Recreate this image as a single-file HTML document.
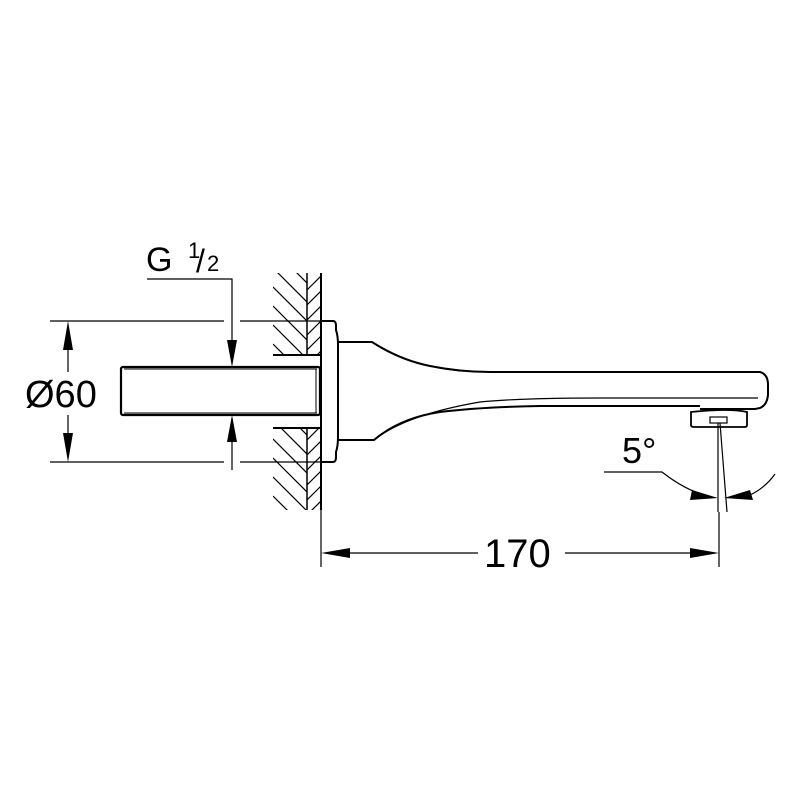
<!DOCTYPE html>
<html><head><style>html,body{margin:0;padding:0;background:#fff}svg{display:block}</style></head>
<body>
<svg width="800" height="800" viewBox="0 0 800 800" xmlns="http://www.w3.org/2000/svg" font-family="Liberation Sans, Arial, sans-serif">
<defs>
<clipPath id="wl"><rect x="273" y="273" width="34" height="82"/><rect x="273" y="428" width="34" height="82"/></clipPath>
<clipPath id="wr"><rect x="307" y="273" width="14" height="82"/><rect x="307" y="428" width="14" height="82"/></clipPath>
</defs>
<g stroke="#000" fill="none">
<g clip-path="url(#wl)" stroke-width="1.2">
<path d="M273,230 l60,60 M273,249 l60,60 M273,268 l60,60 M273,287 l60,60 M273,306 l60,60 M273,325 l60,60 M273,344 l60,60 M273,363 l60,60 M273,382 l60,60 M273,401 l60,60 M273,420 l60,60 M273,439 l60,60 M273,458 l60,60 M273,477 l60,60 M273,496 l60,60"/>
</g>
<g clip-path="url(#wr)" stroke-width="1.2">
<path d="M307,290 l14,-14 M307,305 l14,-14 M307,320 l14,-14 M307,335 l14,-14 M307,350 l14,-14 M307,365 l14,-14 M307,440 l14,-14 M307,455 l14,-14 M307,470 l14,-14 M307,485 l14,-14 M307,500 l14,-14 M307,515 l14,-14 M307,530 l14,-14"/>
</g>
<path d="M307,273 V355 M307,428 V510" stroke-width="1.5"/>
<path d="M321,273 V510" stroke-width="2"/>
<path d="M273,355 H321 M273,428 H321" stroke-width="2"/>
<rect x="121" y="367" width="199" height="48" rx="2" stroke-width="2.2"/>
<path d="M124,369 H317 M124,413 H317 M316,369 V413" stroke-width="1"/>
<path d="M321,321 H333 Q336,321 336,326 V330 Q338,336 338,345 V437 Q338,446 336,452 V457 Q336,462 333,462 H321" stroke-width="2"/>
<path d="M338,342 H372 Q400,360 430,366 Q460,372 490,372 H760 Q768,374 768,385 V395 Q767,405 760,408 L755,409 H700" stroke-width="2"/>
<path d="M338,440 H374 Q400,418 440,412 Q480,407 540,406 H700" stroke-width="2"/>
<path d="M376,345 Q410,366 460,371" stroke-width="1"/>
<path d="M378,437 Q410,414 480,402 Q520,398 600,398 H758" stroke-width="1.2"/>
<path d="M691,412 V425 Q691,427 694,427 H745 Q747,427 747,425 V412 Q730,408 691,412 Z" stroke-width="1.8"/>
<rect x="710" y="417" width="17" height="6" stroke-width="1.2"/>
<path d="M718,423 V512" stroke-width="1.2"/>
<path d="M720,423 L727,512" stroke-width="1.2"/>
<path d="M604,472 H662 Q685,490 705,495" stroke-width="1.2"/>
<path d="M775,474 Q765,488 750,495" stroke-width="1.2"/>
<path d="M50,321 H224 M240,321 H320 M50,462 H224 M240,462 H320" stroke-width="1.2"/>
<path d="M68,340 V372 M68,415 V445" stroke-width="1.2"/>
<path d="M147,279 H232 V345 M232,437 V470" stroke-width="1.2"/>
<path d="M321,440 V567 M719,512 V567" stroke-width="1.2"/>
<path d="M345,553 H478 M565,553 H695" stroke-width="1.2"/>
</g>
<g fill="#000">
<path d="M68,321 L63,350 H73 Z"/>
<path d="M68,462 L63,433 H73 Z"/>
<path d="M232,367 L227,340 H237 Z"/>
<path d="M232,415 L227,442 H237 Z"/>
<path d="M321,553 L350,548 V558 Z"/>
<path d="M719,553 L690,548 V558 Z"/>
<path d="M718,498 L692,490 L690,500 Z"/>
<path d="M724,498 L750,490 L753,500 Z"/>
</g>
<g fill="#000">
<text x="25" y="407" font-size="38">Ø60</text>
<text x="146" y="271" font-size="34">G</text>
<text x="188" y="258" font-size="22">1</text>
<text x="196" y="272" font-size="32">/</text>
<text x="207" y="271" font-size="22">2</text>
<text x="622" y="463" font-size="36">5°</text>
<text x="484" y="567" font-size="40">170</text>
</g>
</svg>
</body></html>
